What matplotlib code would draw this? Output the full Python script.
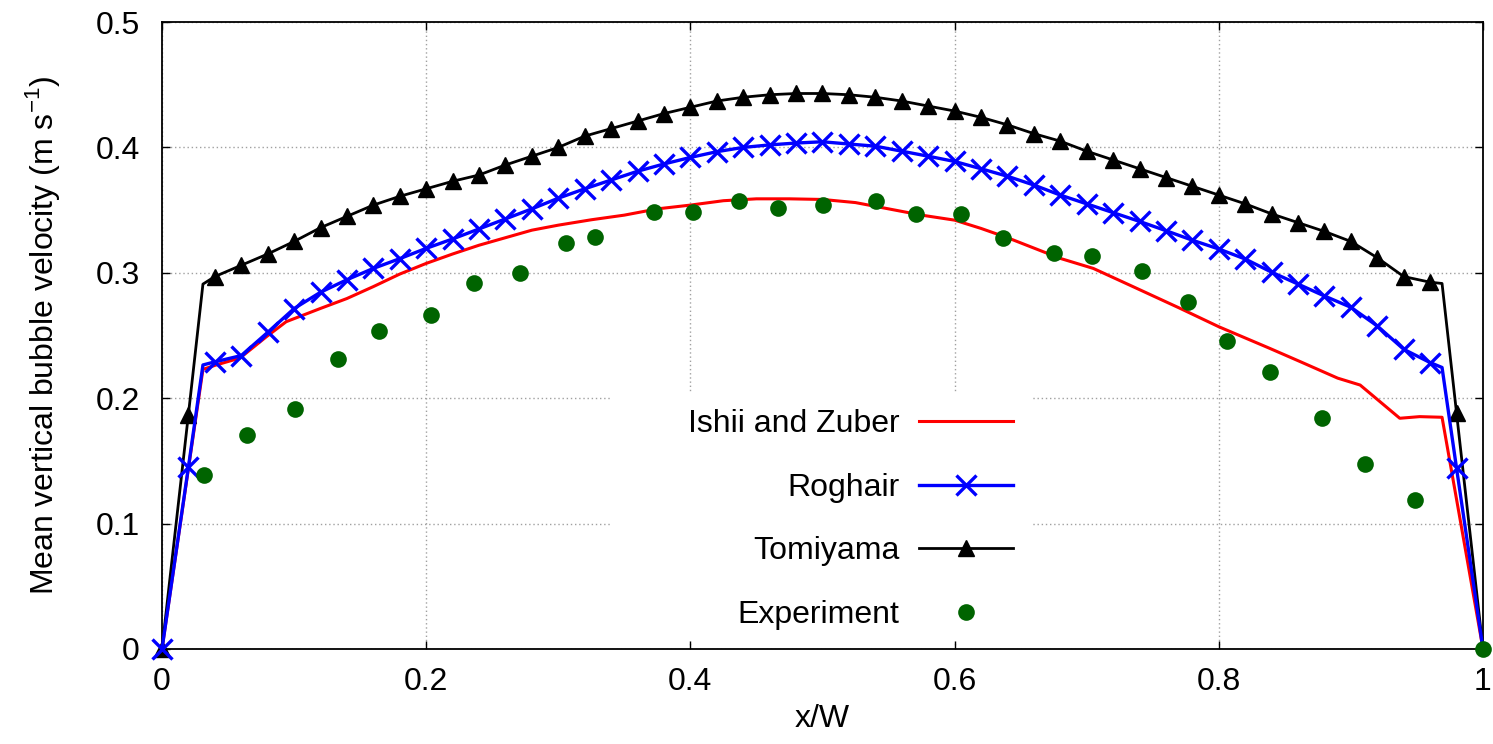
import numpy as np
import matplotlib
matplotlib.use("Agg")
import matplotlib.pyplot as plt
from matplotlib.patches import Rectangle
from matplotlib.ticker import FormatStrFormatter

plt.rcParams['font.family'] = ['Liberation Sans', 'DejaVu Sans']
plt.rcParams['font.size'] = 23

##############################################################################
# Data
##############################################################################

# Ishii and Zuber (line only)
ishii_x = [0.0, 0.031, 0.041, 0.059, 0.079, 0.094, 0.12, 0.14, 0.16, 0.18,
           0.20, 0.22, 0.24, 0.26, 0.28, 0.30, 0.325, 0.35, 0.375, 0.40,
           0.425, 0.45, 0.475, 0.50, 0.525, 0.55, 0.575, 0.60, 0.62, 0.64,
           0.68, 0.705, 0.735, 0.77, 0.80, 0.838, 0.862, 0.89, 0.907, 0.937,
           0.952, 0.969, 1.0]
ishii_y = [0.0, 0.223, 0.2265, 0.232, 0.249, 0.261, 0.2716, 0.2795, 0.289, 0.299,
           0.3075, 0.315, 0.322, 0.328, 0.334, 0.338, 0.3423, 0.346, 0.351, 0.354,
           0.3575, 0.359, 0.359, 0.3585, 0.356, 0.351, 0.346, 0.342, 0.3354, 0.328,
           0.3115, 0.3035, 0.289, 0.272, 0.257, 0.240, 0.229, 0.216, 0.2105, 0.184,
           0.1853, 0.1848, 0.0]

# Roghair (points at 0.031 and 0.969 are line corners, no marker)
rog_x = [0.0, 0.02, 0.031, 0.04, 0.06, 0.08, 0.10, 0.12, 0.14, 0.16, 0.18,
         0.20, 0.22, 0.24, 0.26, 0.28, 0.30, 0.32, 0.34, 0.36, 0.38,
         0.40, 0.42, 0.44, 0.46, 0.48, 0.50, 0.52, 0.54, 0.56, 0.58,
         0.60, 0.62, 0.64, 0.66, 0.68, 0.70, 0.72, 0.74, 0.76, 0.78,
         0.80, 0.82, 0.84, 0.86, 0.88, 0.90, 0.92, 0.94, 0.96, 0.969,
         0.98, 1.0]
rog_y = [0.0, 0.145, 0.2265, 0.229, 0.234, 0.2525, 0.2715, 0.2845, 0.2945, 0.3035, 0.3113,
         0.3195, 0.327, 0.335, 0.343, 0.351, 0.3595, 0.367, 0.374, 0.381, 0.3868,
         0.392, 0.3966, 0.400, 0.402, 0.4035, 0.4045, 0.4027, 0.401, 0.397, 0.393,
         0.3888, 0.383, 0.377, 0.370, 0.362, 0.355, 0.348, 0.341, 0.3336, 0.326,
         0.319, 0.311, 0.3005, 0.291, 0.2815, 0.2725, 0.2576, 0.239, 0.2284, 0.2245,
         0.144, 0.0]

# Tomiyama
tomi_x = [0.0, 0.02, 0.031, 0.04, 0.06, 0.08, 0.10, 0.12, 0.14, 0.16, 0.18,
          0.20, 0.22, 0.24, 0.26, 0.28, 0.30, 0.32, 0.34, 0.36, 0.38,
          0.40, 0.42, 0.44, 0.46, 0.48, 0.50, 0.52, 0.54, 0.56, 0.58,
          0.60, 0.62, 0.64, 0.66, 0.68, 0.70, 0.72, 0.74, 0.76, 0.78,
          0.80, 0.82, 0.84, 0.86, 0.88, 0.90, 0.92, 0.94, 0.96, 0.969,
          0.98, 1.0]
tomi_y = [0.0, 0.187, 0.291, 0.297, 0.306, 0.315, 0.325, 0.336, 0.345, 0.354, 0.361,
          0.367, 0.373, 0.378, 0.386, 0.393, 0.400, 0.409, 0.415, 0.421, 0.427,
          0.432, 0.437, 0.440, 0.442, 0.443, 0.443, 0.442, 0.440, 0.437, 0.433,
          0.429, 0.424, 0.418, 0.411, 0.405, 0.397, 0.390, 0.383, 0.376, 0.369,
          0.362, 0.355, 0.347, 0.340, 0.333, 0.325, 0.312, 0.297, 0.2925, 0.2915,
          0.188, 0.0]

# line corners without a marker
corners = [0.031, 0.969, 1.0]

# Experiment
exp_x = [0.032, 0.064, 0.101, 0.133, 0.1645, 0.204, 0.236, 0.271, 0.3056, 0.3278,
         0.3724, 0.4017, 0.437, 0.4666, 0.5006, 0.5405, 0.5705, 0.605, 0.637, 0.675,
         0.704, 0.7416, 0.7764, 0.806, 0.8387, 0.8784, 0.9107, 0.9485, 1.0]
exp_y = [0.1388, 0.171, 0.191, 0.231, 0.2536, 0.2663, 0.292, 0.300, 0.324, 0.3288,
         0.3488, 0.3488, 0.357, 0.352, 0.3544, 0.3575, 0.347, 0.347, 0.3275, 0.316,
         0.3134, 0.3017, 0.2765, 0.2455, 0.2212, 0.184, 0.1475, 0.1188, 0.0]

##############################################################################
# Plot
##############################################################################

def marked(xs):
    return [i for i, v in enumerate(xs) if v not in corners]

fig = plt.figure(figsize=(14.93, 7.44), dpi=100)
ax = fig.add_axes([0.1085, 0.1277, 0.8848, 0.8427])

ax.plot(ishii_x, ishii_y, '-', color='#ff0000', lw=2.2, label="Ishii and Zuber",
        zorder=3, clip_on=False)
ax.plot(rog_x, rog_y, '-', color='#0000ff', lw=2.4, marker='x', ms=14, mew=2.4,
        markevery=marked(rog_x), label="Roghair", zorder=5, clip_on=False)
ax.plot(tomi_x, tomi_y, '-', color='black', lw=2.0, marker='^', ms=11,
        markevery=marked(tomi_x), label="Tomiyama", zorder=4, clip_on=False)
ax.plot(exp_x, exp_y, 'o', color='#006400', ms=12, mec='none',
        label="Experiment", zorder=6, clip_on=False)

ax.set_xlim(0, 1)
ax.set_ylim(0, 0.5)
ax.set_xticks(np.arange(0, 1.01, 0.2))
ax.set_yticks(np.arange(0, 0.51, 0.1))
ax.xaxis.set_major_formatter(FormatStrFormatter('%g'))
ax.yaxis.set_major_formatter(FormatStrFormatter('%g'))
ax.tick_params(direction='in', length=6, width=1.0, top=True, right=True)
ax.tick_params(axis='x', pad=13)
ax.tick_params(axis='y', pad=16)
ax.set_axisbelow(True)
ax.grid(True, color='#a0a0a0', lw=1.0, linestyle=(0, (1, 2)))
for s in ax.spines.values():
    s.set_linewidth(1.3)

ax.set_xlabel("x/W", labelpad=5)
ax.set_ylabel(r"Mean vertical bubble velocity (m s$^{\mathregular{-1}}$)", labelpad=24)

# white box behind the key hides the grid, like gnuplot
ax.add_patch(Rectangle((0.339, 0.012), 0.3197, 0.398, transform=ax.transAxes,
                       facecolor='white', edgecolor='none', zorder=1))

ax.legend(markerfirst=False, frameon=False, loc='center right',
          bbox_to_anchor=(0.6442, 0.2065), borderpad=0, borderaxespad=0,
          handlelength=2.95, handletextpad=0.6, labelspacing=1.05)

fig.savefig("out.png", dpi=100)
